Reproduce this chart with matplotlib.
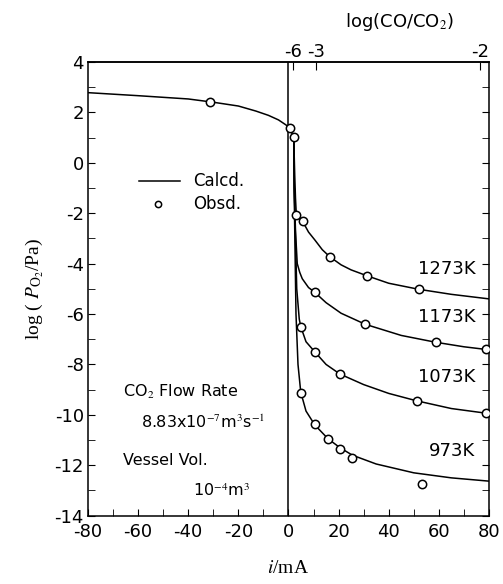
import matplotlib
matplotlib.use('Agg')  # no display needed
import matplotlib.pyplot as plt
from matplotlib.ticker import MultipleLocator

plt.rcParams['font.family'] = 'DejaVu Sans'
plt.rcParams['mathtext.fontset'] = 'stix'
plt.rcParams['axes.unicode_minus'] = False

# calculated curves
left_i = [-80, -60, -40, -30, -20, -13, -8, -4, -1, 0.5, 2.1]
left_y = [2.78, 2.66, 2.53, 2.40, 2.25, 2.05, 1.88, 1.70, 1.50, 1.37, 1.01]

c1273_i = [2.1, 2.5, 2.8, 3.1, 4.2, 5.8, 8, 10.5, 13.5, 16.5, 21, 25, 31.5, 40, 52, 65, 80]
c1273_y = [1.01, -0.5, -1.4, -2.0, -2.2, -2.35, -2.75, -3.06, -3.45, -3.73, -4.05, -4.25, -4.49, -4.78, -5.02, -5.22, -5.40]

c1173_i = [2.1, 2.3, 2.8, 3.5, 4.5, 5.5, 8, 10.5, 15, 21, 30.7, 45, 58.7, 70, 80]
c1173_y = [1.01, -1.0, -2.7, -4.0, -4.35, -4.6, -4.95, -5.14, -5.55, -5.97, -6.41, -6.85, -7.12, -7.30, -7.42]

c1073_i = [2.1, 2.3, 2.8, 3.3, 4.3, 4.9, 7, 10.5, 15, 20.5, 30, 40, 51, 65, 80]
c1073_y = [1.01, -1.0, -3.0, -5.0, -6.2, -6.5, -7.1, -7.5, -8.0, -8.38, -8.8, -9.15, -9.44, -9.75, -9.95]

c973_i = [2.1, 2.4, 3.0, 3.8, 4.9, 7, 10.5, 15.8, 20.5, 25.5, 35, 50, 65, 80]
c973_y = [1.01, -2.0, -6.0, -8.0, -9.1, -9.85, -10.4, -10.95, -11.3, -11.6, -11.95, -12.3, -12.5, -12.63]

# observed points
obs_i = [-31.5, 0.5, 2.1,
         3.1, 5.8, 16.5, 31.5, 52.1,
         10.5, 30.7, 58.7, 78.7,
         4.9, 10.5, 20.5, 51.1, 78.7,
         4.9, 10.5, 15.8, 20.5, 25.5, 53.1]
obs_y = [2.40, 1.37, 1.01,
         -2.07, -2.31, -3.73, -4.49, -5.02,
         -5.14, -6.41, -7.12, -7.39,
         -6.50, -7.50, -8.39, -9.44, -9.94,
         -9.15, -10.37, -10.97, -11.37, -11.70, -12.75]

temps = ['1273K', '1173K', '1073K', '973K']
temp_y = [-4.2, -6.1, -8.5, -11.45]

top_pos = [1.8, 11, 76.6]
top_labels = ['-6', '-3', '-2']

fig = plt.figure(figsize=(5.03, 5.84), dpi=100)
ax = fig.add_axes([0.175, 0.117, 0.797, 0.777])

ax.plot(left_i, left_y, color='black', lw=1.1)
for ci, cy in [(c1273_i, c1273_y), (c1173_i, c1173_y),
               (c1073_i, c1073_y), (c973_i, c973_y)]:
    ax.plot(ci, cy, color='black', lw=1.1)
ax.axvline(0, color='black', lw=1.1)
ax.plot(obs_i, obs_y, 'o', mfc='white', mec='black', ms=6, mew=1.1, zorder=3)

for t, ty in zip(temps, temp_y):
    ax.text(74.5, ty, t, ha='right', va='center', fontsize=13)

# legend drawn by hand
ax.plot([-59.8, -43.4], [-0.72, -0.72], color='black', lw=1.1)
ax.plot([-52.2], [-1.63], 'o', mfc='white', mec='black', ms=4.5, mew=1.1)
ax.text(-38, -0.72, 'Calcd.', va='center', fontsize=12)
ax.text(-38, -1.63, 'Obsd.', va='center', fontsize=12)

ax.text(-66, -9.1, 'CO$_2$ Flow Rate', va='center', fontsize=11.5)
ax.text(-59, -10.3, r'8.83x10$^{-7}$m$^{3}$s$^{-1}$', va='center', fontsize=11.5)
ax.text(-66, -11.8, 'Vessel Vol.', va='center', fontsize=11.5)
ax.text(-38, -13.0, r'10$^{-4}$m$^{3}$', va='center', fontsize=11.5)

ax.set_xlim(-80, 80)
ax.set_ylim(-14, 4)
ax.set_xticks(range(-80, 81, 20))
ax.xaxis.set_minor_locator(MultipleLocator(10))
ax.set_yticks(range(-14, 5, 2))
ax.yaxis.set_minor_locator(MultipleLocator(1))
ax.tick_params(which='both', direction='in', right=True, labelsize=13)
ax.tick_params(which='both', length=5)
ax.tick_params(axis='x', which='both', top=False, pad=5)
ax.tick_params(axis='y', pad=3)
for s in ax.spines.values():
    s.set_linewidth(1.1)

sec = ax.secondary_xaxis('top')
sec.set_xticks(top_pos)
sec.set_xticklabels(top_labels)
sec.tick_params(direction='in', length=6, labelsize=13, pad=1)
sec.spines['top'].set_linewidth(1.1)

fig.text(0.795, 0.962, 'log(CO/CO$_2$)', ha='center', va='center', fontsize=13)
ax.set_xlabel('$i$/mA', family='Liberation Serif', fontsize=14, labelpad=14)
ax.set_ylabel('log ( $P_{\\mathrm{O}_2}$/Pa)', family='Liberation Serif',
              fontsize=14, labelpad=6)

fig.savefig('out.png', dpi=100)
